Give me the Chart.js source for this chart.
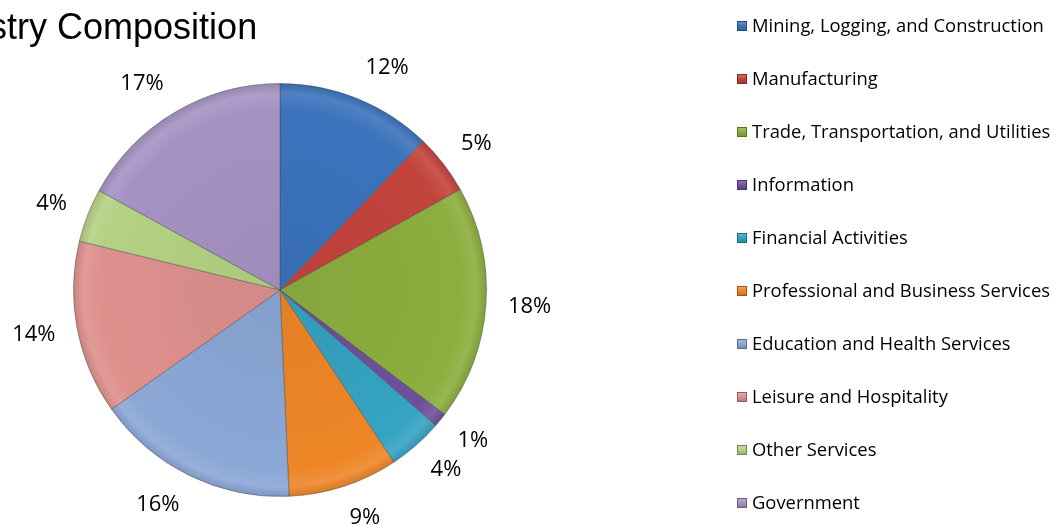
<!DOCTYPE html>
<html lang="en">
<head>
<meta charset="utf-8"/>
<title>Industry Composition</title>
<script src="https://cdn.jsdelivr.net/npm/chart.js"></script>
<style>
  html, body { margin: 0; padding: 0; background: #fff; overflow: hidden; }
  #wrap { position: relative; width: 1057px; height: 525px; }
</style>
</head>
<body>
<div id="wrap"><canvas id="pieChart" width="1057" height="525"></canvas></div>
<script>
  const titleText = "Industry Composition";
  const industries = [
    "Mining, Logging, and Construction",
    "Manufacturing",
    "Trade, Transportation, and Utilities",
    "Information",
    "Financial Activities",
    "Professional and Business Services",
    "Education and Health Services",
    "Leisure and Hospitality",
    "Other Services",
    "Government"
  ];
  // share of employment, percent
  const shares = [12.2, 4.7, 18.4, 1.1, 4.3, 8.6, 15.9, 13.6, 4.2, 17.0];
  const sliceColors = [
    "#3b73bc", "#c4433d", "#8bae3e", "#6e4f9c", "#35a3c2",
    "#ee8627", "#8aa7d6", "#de908d", "#b4d183", "#a592c3"
  ];

  function shade(hex, amt) {
    const n = parseInt(hex.slice(1), 16);
    let r = (n >> 16) & 255, g = (n >> 8) & 255, b = n & 255;
    const f = c => Math.round(amt >= 0 ? c + (255 - c) * amt : c * (1 + amt));
    return "rgb(" + f(r) + "," + f(g) + "," + f(b) + ")";
  }

  function sliceFill(context) {
    const base = sliceColors[context.dataIndex];
    const area = context.chart.chartArea;
    if (!area) return base;
    const cx = (area.left + area.right) / 2, cy = (area.top + area.bottom) / 2;
    const r = Math.min(area.width, area.height) / 2;
    const g = context.chart.ctx.createRadialGradient(cx, cy, 0, cx, cy, r);
    g.addColorStop(0, shade(base, -0.05));
    g.addColorStop(0.87, base);
    g.addColorStop(0.95, shade(base, 0.1));
    g.addColorStop(1, shade(base, -0.1));
    return g;
  }

  const titlePlugin = {
    id: "cutTitle",
    afterDraw(chart) {
      const ctx = chart.ctx;
      ctx.save();
      ctx.font = "36px 'Liberation Sans', Arial, sans-serif";
      ctx.fillStyle = "#000";
      ctx.textAlign = "left";
      ctx.textBaseline = "alphabetic";
      ctx.fillText(titleText, -81, 39);
      ctx.restore();
    }
  };

  // percent labels just outside each slice, box pushed off the rim
  const outsideLabels = {
    id: "outsideLabels",
    afterDatasetsDraw(chart) {
      const ctx = chart.ctx;
      const meta = chart.getDatasetMeta(0);
      const total = shares.reduce((a, b) => a + b, 0);
      ctx.save();
      ctx.font = "22px 'Open Sans', sans-serif";
      ctx.fillStyle = "#000";
      ctx.textAlign = "center";
      ctx.textBaseline = "middle";
      meta.data.forEach((arc, i) => {
        const txt = Math.round(shares[i] / total * 100) + "%";
        const w = ctx.measureText(txt).width, h = 22;
        const mid = (arc.startAngle + arc.endAngle) / 2;
        const d = arc.outerRadius + 22;
        const cos = Math.cos(mid), sin = Math.sin(mid);
        const sx = Math.max(-1, Math.min(1, cos * 3));
        ctx.fillText(txt, arc.x + cos * d + sx * w / 2, arc.y + sin * d + sin * h / 2);
      });
      ctx.restore();
    }
  };

  const sideLegend = {
    id: "sideLegend",
    afterDraw(chart) {
      const ctx = chart.ctx;
      ctx.save();
      ctx.font = "18.4px 'Open Sans', sans-serif";
      ctx.textAlign = "left";
      ctx.textBaseline = "middle";
      industries.forEach((name, i) => {
        const y = 26 + i * 53;
        const c = sliceColors[i];
        const g = ctx.createLinearGradient(0, y - 5, 0, y + 5);
        g.addColorStop(0, shade(c, 0.25));
        g.addColorStop(0.5, c);
        g.addColorStop(1, shade(c, -0.2));
        ctx.fillStyle = g;
        ctx.fillRect(737, y - 5, 10, 10);
        ctx.strokeStyle = shade(c, -0.35);
        ctx.lineWidth = 1;
        ctx.strokeRect(737.5, y - 4.5, 9, 9);
        ctx.fillStyle = "#000";
        ctx.fillText(name, 752, y + 1);
      });
      ctx.restore();
    }
  };

  new Chart(document.getElementById("pieChart"), {
    type: "pie",
    data: {
      labels: industries,
      datasets: [{
        data: shares,
        backgroundColor: sliceFill,
        borderColor: "rgba(70,70,70,0.45)",
        borderWidth: 1
      }]
    },
    options: {
      responsive: false,
      animation: false,
      devicePixelRatio: 1,
      layout: { padding: { left: 73, right: 570, top: 83, bottom: 28 } },
      plugins: {
        legend: { display: false },
        tooltip: { enabled: false },
        title: { display: false }
      }
    },
    plugins: [outsideLabels, sideLegend, titlePlugin]
  });
</script>
</body>
</html>
